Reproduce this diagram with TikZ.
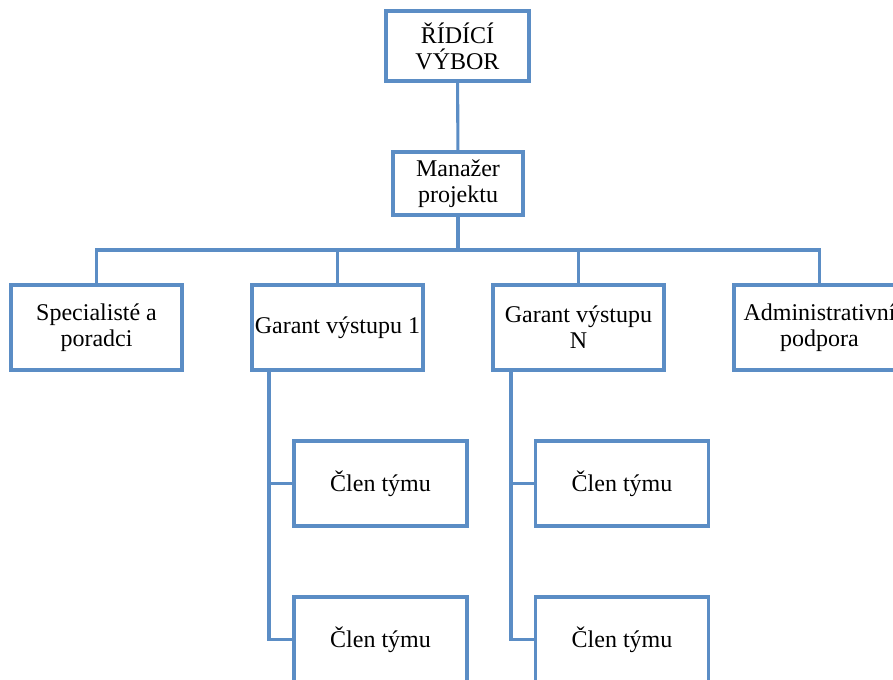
\documentclass[tikz,border=0pt]{standalone}
\usepackage{fontspec}
\setmainfont{Liberation Serif}
\definecolor{orgblue}{HTML}{5B8DC5}
\begin{document}
\begin{tikzpicture}[x=0.75pt,y=-0.75pt,
  box/.style={draw=orgblue,line width=2.3pt,fill=white,rectangle,inner sep=0pt,
    align=center,font=\fontsize{18}{19.5}\selectfont,text=black},
  link/.style={draw=orgblue,line width=2.3pt}]
\useasboundingbox (0,0) rectangle (893,679);
\clip (0,0) rectangle (893,679);
% top level
\node[box,minimum width=107.25pt,minimum height=52.5pt] (board) at (457.5,46) {ŘÍDÍCÍ\\VÝBOR};
\node[box,minimum width=97.5pt,minimum height=47.25pt] (mgr) at (458,183.5) {Manažer\\projektu};
% second level
\tikzset{lvl/.style={box,minimum width=128.25pt,minimum height=63.75pt}}
\node[lvl] (spec) at (96.5,327.5) {Specialisté a\\poradci};
\node[lvl] (g1) at (337.5,327.5) {Garant výstupu 1};
\node[lvl] (gn) at (578.5,327.5) {Garant výstupu\\N};
\node[lvl] (adm) at (819.5,327.5) {Administrativní\\podpora};
% team members
\tikzset{mem/.style={box,minimum width=129.75pt,minimum height=63.75pt}}
\node[mem] (m1) at (380.5,483.5) {Člen týmu};
\node[mem] (m2) at (380.5,639.5) {Člen týmu};
\node[mem] (m3) at (622,483.5) {Člen týmu};
\node[mem] (m4) at (622,639.5) {Člen týmu};
% connectors
\coordinate (bus) at (458,250);
\coordinate (g1t) at (269,370);
\coordinate (gnt) at (511,370);
\draw[link] (board) -- (mgr);
\draw[link] (mgr) -- (bus);
\draw[link] (spec.north) |- (bus);
\draw[link] (g1.north) |- (bus);
\draw[link] (gn.north) |- (bus);
\draw[link] (adm.north) |- (bus);
\draw[link] (g1t) |- (m1.west);
\draw[link] (g1t) |- (m2.west);
\draw[link] (gnt) |- (m3.west);
\draw[link] (gnt) |- (m4.west);
\end{tikzpicture}
\end{document}
